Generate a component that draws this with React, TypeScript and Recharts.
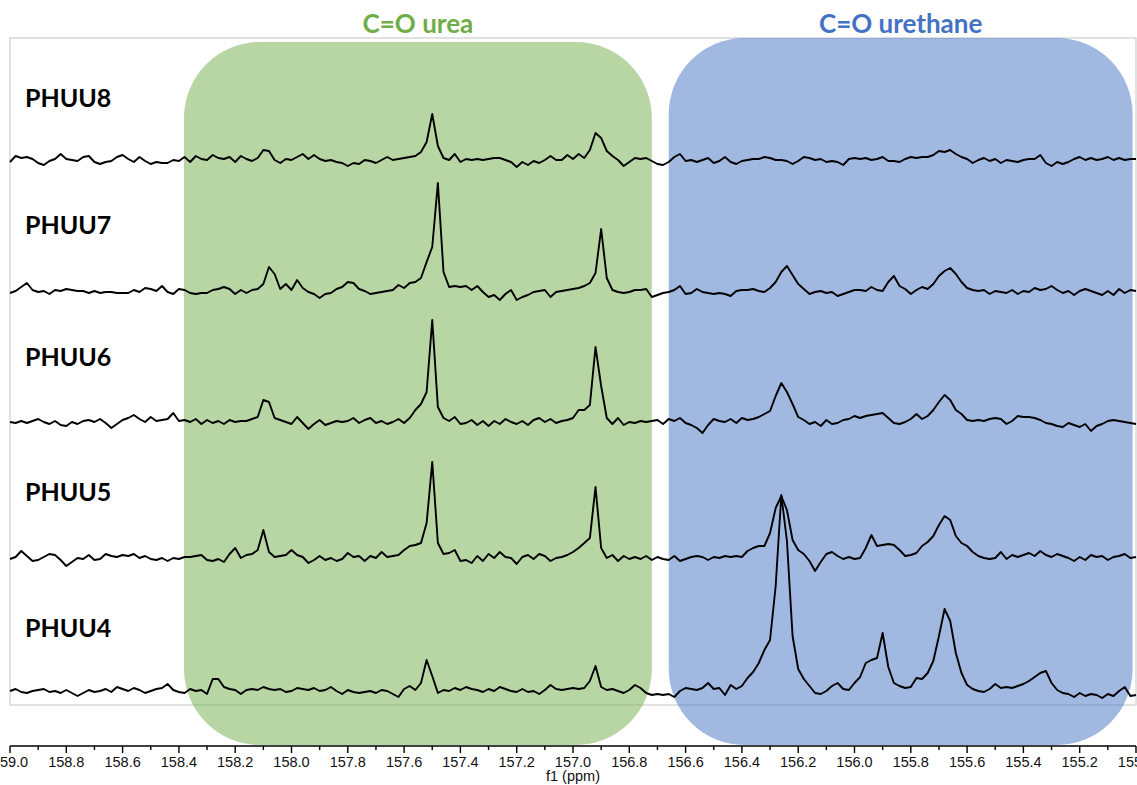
import React from 'react';
import { LineChart, Line, XAxis, YAxis, ReferenceArea, ReferenceDot } from 'recharts';

// Spectral grid (ppm axis): first point and spacing of the sampled spectrum
const PPM_START = 159.0;
const PPM_STEP = 0.02;

// Trace names, top to bottom
const seriesNames = ['PHUU8', 'PHUU7', 'PHUU6', 'PHUU5', 'PHUU4'];
// Vertical stacking offset of each trace (intensity units)
const stackBaselines = [586, 454, 324, 188, 55];
// Intensity level at which each trace's name is written
const labelLevels = [648, 521, 389, 254, 118];

// Intensities (relative to each trace's baseline), 159.00 -> 155.00 ppm every 0.02 ppm
const phuu8 = [
  -2, 4, 2, 3, 1, -3, -5, -1, 1, 6,
  1, 0, -1, 3, 4, -2, -4, -2, -1, 3,
  5, 1, -2, 3, -1, -4, -2, -3, -3, 0,
  -1, 3, -2, 4, 1, 0, 5, 2, 1, 3,
  -2, 4, 1, -1, 2, 10, 9, 0, -3, 1,
  0, 3, 6, 1, 5, 1, -1, 0, -2, -3,
  -6, -3, -4, 0, -1, -3, 0, 3, 0, 1,
  2, 3, 4, 8, 18, 46, 14, 2, 0, 6,
  -2, 1, 0, 1, 0, 1, 2, 2, 0, -2,
  -7, -2, -5, -1, -3, 0, 4, 0, 0, 5,
  1, 6, 2, 10, 27, 22, 9, 4, 0, -6,
  -2, 2, 1, 2, -1, -4, -5, -2, 3, 6,
  -1, 0, -2, 0, 2, -3, -1, 3, -2, -4,
  -1, 0, 1, 1, 3, 2, 0, 0, -1, -4,
  -1, 3, 2, 0, 1, -2, -1, -2, -5, 1,
  2, 1, 2, 0, 1, 3, -1, -1, -2, 1,
  3, 2, 3, 3, 5, 9, 8, 10, 6, 3,
  1, -3, 0, 2, -1, 1, -3, 0, -1, -2,
  0, 1, 1, 5, -3, -6, -2, -4, -2, 1,
  3, 0, 2, 0, 1, 3, 0, 2, 0, 1,
  1,
];

const phuu7 = [
  -1, 1, 5, 9, 2, 0, 1, -2, 2, 1,
  3, 2, 1, 1, -1, 1, -1, 0, 0, -1,
  -1, -1, 2, 0, 4, 3, 1, 6, 0, -2,
  3, 2, -1, -2, -1, -1, 2, 3, 5, 3,
  -2, 2, -1, 2, 3, 8, 25, 18, 3, 8,
  2, 12, 4, 0, -2, -6, -2, -1, 3, 5,
  10, 9, 3, 1, -2, -1, 0, 1, 2, 7,
  4, 9, 10, 14, 30, 45, 109, 20, 5, 6,
  5, 6, 2, 6, 0, -5, -3, -8, -2, 2,
  -8, -5, -3, 0, 1, 2, -5, 0, 1, 2,
  3, 4, 6, 9, 19, 63, 14, 2, 0, -1,
  0, 2, 2, 3, -5, -3, -1, 0, 2, 6,
  -2, -1, 3, 0, -1, -2, -1, -2, -4, 1,
  2, 2, 3, 1, 0, 4, 10, 20, 26, 17,
  8, 3, -2, 0, 1, -1, 0, -4, -2, 0,
  2, 2, 1, 5, 2, 1, 10, 16, 6, 3,
  -2, 2, 5, 3, 8, 16, 21, 24, 18, 10,
  4, 2, 1, 2, -2, 1, 0, -1, 2, -2,
  1, 0, 4, 2, 3, 6, 2, -1, 1, -3,
  1, 3, 1, -1, -3, 1, -3, 3, -1, 2,
  1,
];

const phuu6 = [
  0, -1, 1, -1, 1, 3, 0, -2, 1, -3,
  -4, 0, -2, 1, 2, 0, 3, -1, -6, -2,
  2, 4, 7, 3, 0, 5, 1, 2, 3, 9,
  1, 2, 0, 3, -2, 2, -1, 1, -2, 2,
  0, 1, 1, 3, 5, 22, 20, 4, 2, 0,
  -2, 5, -1, -7, -2, 2, -3, -1, 1, 0,
  1, 4, -1, 2, 4, -1, 1, -2, 0, 3,
  -1, 4, 12, 18, 30, 102, 15, 4, 1, 5,
  -2, -1, 2, -3, 1, -4, 1, -2, 3, 0,
  -2, 1, -3, 2, 4, 0, 3, -1, 1, 2,
  4, 12, 12, 17, 75, 36, 4, -2, 4, -3,
  0, -1, 1, 0, 1, 2, -2, 3, 1, 4,
  -1, -3, -6, -11, -3, 3, 1, 0, 3, -1,
  4, 2, 3, 5, 8, 11, 26, 39, 30, 18,
  5, 2, -2, 0, -4, 2, -2, -1, 2, 3,
  6, 4, 6, 7, 8, 9, 4, -1, -2, 0,
  3, 8, 3, 6, 12, 20, 27, 22, 12, 8,
  2, 1, 2, 1, 3, 4, 3, -2, 1, 6,
  5, 5, 4, 2, -1, -2, -4, -5, -1, -3,
  -5, -2, -9, -4, -2, 1, 2, 1, 0, -1,
  -2,
];

const phuu5 = [
  -1, 1, 7, 2, -3, -2, 1, 4, 3, -2,
  -8, -4, 0, -1, 3, -2, -1, 4, 2, 1,
  3, 2, 4, 0, 2, -1, -2, 0, -3, 0,
  -1, 1, 1, 2, 3, -2, -3, -1, -4, 4,
  10, 0, 3, 4, 8, 28, 6, 1, 2, 3,
  8, 3, 1, -5, -2, 2, -2, 0, -3, -1,
  5, 1, 2, -3, 2, 0, 6, 1, 2, 3,
  8, 12, 13, 15, 35, 96, 15, 4, 5, 8,
  -3, -2, -5, 2, -3, 4, 0, 6, 1, 0,
  -6, 1, 3, -1, 4, 2, -3, 0, 1, 3,
  6, 10, 15, 20, 71, 10, 0, 3, -3, 2,
  -1, 1, -1, 2, -2, 1, -1, -2, 2, -3,
  -1, 1, 2, 1, -2, 1, 0, 2, 1, 2,
  1, 7, 10, 12, 12, 25, 50, 62, 48, 18,
  8, 4, -3, -13, -4, 4, 6, 2, -1, 1,
  -1, 0, 10, 23, 12, 13, 14, 13, 8, 2,
  3, 5, 12, 16, 22, 33, 42, 38, 22, 15,
  12, 6, 2, 0, -1, 0, 6, -1, 3, 1,
  3, 5, 2, 7, 3, 1, 4, 2, 0, -3,
  1, -2, 3, 1, 2, -2, 1, 2, 4, 0,
  1,
];

const phuu4 = [
  0, 2, -1, -2, 0, 1, 2, -1, 0, -2,
  1, -2, -5, -2, 1, -1, 0, 2, -1, 4,
  2, 0, 3, 1, -2, 0, 2, 3, 7, 1,
  -1, -2, 2, 0, 1, -3, 12, 12, 4, 2,
  1, -3, 1, 2, 1, 4, 2, 1, 2, -1,
  0, 3, 2, 1, 3, 0, 1, 4, 0, -3,
  1, -1, -2, -1, 0, -2, 1, 0, -3, -6,
  2, 5, 1, 8, 31, 15, -2, 1, 0, 3,
  1, 4, 2, 1, -1, 2, 0, 4, 2, 0,
  -1, 2, -1, 0, -3, 1, 6, 2, 1, 2,
  3, 2, 3, 10, 25, 4, 1, 2, 0, -2,
  1, 6, 3, -2, -4, -3, -4, -3, -6, 0,
  3, 2, 1, 3, 8, 2, 3, -4, 6, 2,
  5, 13, 19, 28, 41, 51, 105, 196, 150, 55,
  22, 12, 5, -2, -3, 0, 5, 8, 2, 1,
  8, 14, 28, 31, 33, 58, 24, 8, 5, 3,
  4, 13, 12, 18, 30, 55, 82, 70, 38, 18,
  6, 2, 0, -1, 2, 7, 3, 4, 3, 5,
  7, 10, 14, 18, 20, 8, 1, -2, -3, -6,
  -2, -5, -3, -4, -7, -3, -5, 0, 4, -5,
  -4,
];

const seriesValues = [phuu8, phuu7, phuu6, phuu5, phuu4];

// Axis ticks
const majorTicks = [159.0, 158.8, 158.6, 158.4, 158.2, 158.0, 157.8, 157.6, 157.4, 157.2, 157.0,
  156.8, 156.6, 156.4, 156.2, 156.0, 155.8, 155.6, 155.4, 155.2, 155.0];
const minorTicks = [158.9, 158.7, 158.5, 158.3, 158.1, 157.9, 157.7, 157.5, 157.3, 157.1,
  156.9, 156.7, 156.5, 156.3, 156.1, 155.9, 155.7, 155.5, 155.3, 155.1];
const axisTitle = 'f1 (ppm)';

// Highlighted regions
const ureaRegion = { title: 'C=O urea', from: 158.382, to: 156.72, low: 1, high: 704 };
const urethaneRegion = { title: 'C=O urethane', from: 156.66, to: 155.012, low: 1, high: 708 };
const frameBox = { from: 159.0, to: 155.0, low: 41, high: 708 };
const labelPpm = 158.947;

const data = phuu8.map((_, i) => {
  const row: Record<string, number> = { ppm: Math.round((PPM_START - i * PPM_STEP) * 100) / 100 };
  seriesNames.forEach((name, k) => {
    row[name] = seriesValues[k][i] + stackBaselines[k];
  });
  return row;
});

const allTicks = [...majorTicks, ...minorTicks].sort((a, b) => b - a);
const FONT_AXIS = "'Liberation Sans', Arial, sans-serif";

const AxisTick = (props: any) => {
  const { x, y, payload } = props;
  const v = payload.value as number;
  const isMajor = majorTicks.some((m) => Math.abs(m - v) < 1e-6);
  const isTitleTick = Math.abs(v - 157.0) < 1e-6;
  return (
    <g>
      <line x1={x} x2={x} y1={y} y2={y + (isMajor ? 7 : 4)} stroke="#000" strokeWidth={1.4} />
      {isMajor && (
        <text x={x} y={y + 21} textAnchor="middle" fontSize={14.5} fontFamily={FONT_AXIS} fill="#111">
          {v.toFixed(1)}
        </text>
      )}
      {isTitleTick && (
        <text x={x} y={y + 35} textAnchor="middle" fontSize={14.5} fontFamily={FONT_AXIS} fill="#111">
          {axisTitle}
        </text>
      )}
    </g>
  );
};

const roundedShape = (fill: string) => (p: any) => (
  <rect x={p.x} y={p.y} width={p.width} height={p.height} rx={76} ry={76} fill={fill} fillOpacity={0.5} />
);

const frameShape = (p: any) => (
  <rect x={p.x} y={p.y} width={p.width} height={p.height} fill="none" stroke="#C4C4C4" strokeWidth={1} />
);

export default function App() {
  return (
    <div style={{ position: 'absolute', left: 0, top: 0, width: 1137, height: 785, background: '#fff' }}>
      <LineChart width={1137} height={785} data={data} margin={{ top: 38, right: 1, bottom: 0, left: 10 }}>
        <XAxis
          dataKey="ppm"
          type="number"
          domain={[155, 159]}
          reversed
          ticks={allTicks}
          interval={0}
          tickLine={false}
          tickSize={0}
          tickMargin={0}
          tick={<AxisTick />}
          axisLine={{ stroke: '#000', strokeWidth: 1.4 }}
          height={39}
        />
        <YAxis hide type="number" domain={[0, 708]} />
        <ReferenceArea
          x1={frameBox.from}
          x2={frameBox.to}
          y1={frameBox.low}
          y2={frameBox.high}
          shape={frameShape}
          ifOverflow="visible"
        />
        <ReferenceArea
          x1={ureaRegion.from}
          x2={ureaRegion.to}
          y1={ureaRegion.low}
          y2={ureaRegion.high}
          shape={roundedShape('#70AD47')}
          ifOverflow="visible"
          label={{
            value: ureaRegion.title,
            position: 'top',
            offset: 9,
            fill: '#70AD47',
            fontSize: 26,
            fontWeight: 700,
            fontFamily: 'Lato, sans-serif',
          }}
        />
        <ReferenceArea
          x1={urethaneRegion.from}
          x2={urethaneRegion.to}
          y1={urethaneRegion.low}
          y2={urethaneRegion.high}
          shape={roundedShape('#4472C4')}
          ifOverflow="visible"
          label={{
            value: urethaneRegion.title,
            position: 'top',
            offset: 5,
            fill: '#4472C4',
            fontSize: 26,
            fontWeight: 700,
            fontFamily: 'Lato, sans-serif',
          }}
        />
        {seriesNames.map((name) => (
          <Line
            key={name}
            dataKey={name}
            type="linear"
            stroke="#000"
            strokeWidth={1.9}
            strokeLinejoin="round"
            dot={false}
            activeDot={false}
            isAnimationActive={false}
          />
        ))}
        {seriesNames.map((name, k) => (
          <ReferenceDot
            key={'lbl-' + name}
            x={labelPpm}
            y={labelLevels[k]}
            r={0}
            fill="none"
            stroke="none"
            label={{
              value: name,
              position: 'right',
              offset: 0,
              fill: '#000',
              fontSize: 25,
              fontWeight: 700,
              fontFamily: 'Lato, sans-serif',
            }}
          />
        ))}
      </LineChart>
    </div>
  );
}
